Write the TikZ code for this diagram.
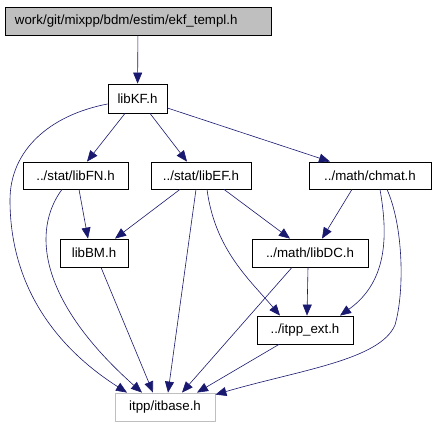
\documentclass[tikz,border=0pt]{standalone}
\usepackage{fontspec}
\setmainfont{Liberation Sans}
\usetikzlibrary{arrows.meta}
\definecolor{edgeblue}{HTML}{191970}
\definecolor{boxgray}{HTML}{BFBFBF}
\begin{document}
\begin{tikzpicture}[x=1pt,y=-1pt,
    file/.style={draw,line width=0.8pt,inner sep=0pt,minimum height=28pt,
        font=\fontsize{13.3}{16}\selectfont},
    inc/.style={draw=edgeblue,line width=0.6pt,
        -{Triangle[length=11pt,width=9pt,color=edgeblue,fill=edgeblue]}}]
        \useasboundingbox (0,0) rectangle (437,427);

        \node[file,fill=boxgray,text width=246pt,align=left,inner xsep=10pt] (top) at (138,21) {work/git/mixpp/bdm/estim/ekf\_templ.h};
        \node[file,minimum width=59pt,minimum height=29pt] (libKF) at (137.5,98.5) {libKF.h};

        \node[file,minimum width=105pt,minimum height=27pt] (libFN) at (75.5,175.5) {../stat/libFN.h};
        \node[file,minimum width=100pt,minimum height=27pt] (libEF) at (201,175.5) {../stat/libEF.h};
        \node[file,minimum width=122pt,minimum height=27pt] (chmat) at (370,175.5) {../math/chmat.h};

        \node[file,minimum width=68pt] (libBM) at (94,253) {libBM.h};
        \node[file,minimum width=116pt] (libDC) at (310,253) {../math/libDC.h};
        \node[file,minimum width=96pt] (itpp) at (305,330) {../itpp\_ext.h};
        \node[file,draw=boxgray,minimum width=100pt] (itbase) at (165,407) {itpp/itbase.h};

        \draw[inc] (top) -- (libKF);
        \draw[inc] ([xshift=-12.5pt]libKF.south) -- ([xshift=11.5pt]libFN.north);
        \draw[inc] ([xshift=12.5pt]libKF.south) -- ([xshift=-14pt]libEF.north);
        \draw[inc] ([yshift=-9.5pt]libKF.east) -- ([xshift=-40pt]chmat.north);
        \draw[inc] ([yshift=-5.5pt]libKF.west) .. controls (50,115) and (10,150) .. (10,200)
            .. controls (10,290) and (60,350) .. ([xshift=-38pt]itbase.north);

        \draw[inc] ([xshift=3.5pt]libFN.south) -- ([xshift=-6pt]libBM.north);
        \draw[inc] ([xshift=-13.5pt]libFN.south) .. controls (32,230) and (38,300) .. ([xshift=-23pt]itbase.north);

        \draw[inc] ([xshift=-21pt]libEF.south) -- ([xshift=21pt]libBM.north);
        \draw[inc] ([xshift=-5pt]libEF.south) -- ([xshift=3pt]itbase.north);
        \draw[inc] ([xshift=6pt]libEF.south) .. controls (215,250) and (250,280) .. ([xshift=-25pt]itpp.north);
        \draw[inc] ([xshift=23pt]libEF.south) -- ([xshift=-20pt]libDC.north);

        \draw[inc] ([xshift=-18pt]chmat.south) -- ([xshift=12pt]libDC.north);
        \draw[inc] ([xshift=10pt]chmat.south) .. controls (387,230) and (390,280) .. ([xshift=35pt]itpp.north);
        \draw[inc] ([xshift=17pt]chmat.south) .. controls (403,225) and (405,290) .. (395,325)
            .. controls (380,360) and (300,370) .. ([yshift=-2pt]itbase.north east);

        \draw[inc] ([xshift=7pt]libBM.south) -- ([xshift=-12pt]itbase.north);
        \draw[inc] ([xshift=-2pt]libDC.south) -- ([xshift=2pt]itpp.north);
        \draw[inc] ([xshift=-18pt]libDC.south) -- ([xshift=17pt]itbase.north);
        \draw[inc] ([xshift=-26pt]itpp.south) -- ([xshift=32pt]itbase.north);
\end{tikzpicture}
\end{document}
